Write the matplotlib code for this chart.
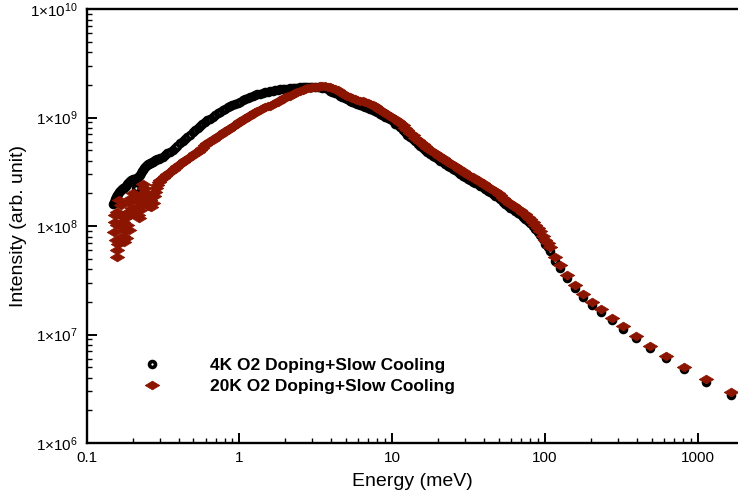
import matplotlib
matplotlib.use("Agg")
import matplotlib.pyplot as plt
from matplotlib.path import Path
from matplotlib.ticker import FixedLocator, FixedFormatter, LogLocator, NullFormatter

# axis ticks
x_ticks = [0.1, 1, 10, 100, 1000]
x_tick_labels = ['0.1', '1', '10', '100', '1000']
y_ticks = [1e6, 1e7, 1e8, 1e9, 1e10]
y_tick_labels = ['1×10$^{6}$', '1×10$^{7}$', '1×10$^{8}$', '1×10$^{9}$', '1×10$^{10}$']

series_names = ['4K O2 Doping+Slow Cooling', '20K O2 Doping+Slow Cooling']

# low energy part (noisy, read separately for each run)
black_low_e = [0.1487, 0.1509, 0.1533, 0.1556, 0.1579, 0.1603, 0.1627, 0.1652, 0.1677, 0.1702,
               0.1728, 0.1754, 0.1781, 0.1808, 0.1836, 0.1864, 0.1892, 0.1921, 0.1950, 0.1980,
               0.2010, 0.2041, 0.2072, 0.2103, 0.2119, 0.2135, 0.2167, 0.2200, 0.2234, 0.2268,
               0.2302, 0.2337, 0.2372, 0.2409, 0.2445, 0.2483, 0.2520, 0.2559, 0.2598, 0.2637,
               0.2677, 0.2718, 0.2759, 0.2801, 0.2844, 0.2887, 0.2953]
black_low_i = [1.60e8, 1.67e8, 1.77e8, 1.85e8, 1.93e8, 1.99e8, 2.06e8, 2.10e8, 2.15e8, 2.19e8,
               2.24e8, 2.26e8, 2.29e8, 2.36e8, 2.44e8, 2.49e8, 2.54e8, 2.60e8, 2.66e8, 2.68e8,
               2.71e8, 2.71e8, 2.74e8, 2.24e8, 1.93e8, 2.77e8, 2.83e8, 2.89e8, 2.98e8, 3.08e8,
               3.18e8, 3.28e8, 3.39e8, 3.50e8, 3.57e8, 3.65e8, 3.69e8, 3.73e8, 3.77e8, 3.81e8,
               3.85e8, 3.89e8, 3.97e8, 4.06e8, 4.10e8, 4.15e8, 4.17e8]

red_low_e = [0.1498, 0.1521, 0.1533, 0.1556, 0.1573, 0.1579, 0.1591, 0.1591, 0.1615, 0.1627,
             0.1652, 0.1665, 0.1677, 0.1690, 0.1716, 0.1728, 0.1755, 0.1781, 0.1795, 0.1822,
             0.1836, 0.1864, 0.1892, 0.1906, 0.1935, 0.1950, 0.1980, 0.2010, 0.2041, 0.2072,
             0.2103, 0.2135, 0.2167, 0.2200, 0.2234, 0.2268, 0.2302, 0.2337, 0.2372, 0.2409,
             0.2445, 0.2483, 0.2520, 0.2559, 0.2598, 0.2637, 0.2677, 0.2718, 0.2759, 0.2801,
             0.2844, 0.2887, 0.2953]
red_low_i = [8.80e7, 1.26e8, 1.09e8, 7.43e7, 1.35e8, 1.02e8, 6.01e7, 5.21e7, 6.83e7, 1.74e8,
             7.43e7, 1.00e8, 1.56e8, 1.26e8, 8.09e7, 1.09e8, 7.12e7, 1.19e8, 9.19e7, 7.75e7,
             1.02e8, 1.35e8, 9.19e7, 1.67e8, 1.26e8, 1.81e8, 1.47e8, 2.01e8, 1.35e8, 1.74e8,
             1.81e8, 1.40e8, 1.26e8, 1.19e8, 1.40e8, 1.56e8, 1.93e8, 2.44e8, 2.24e8, 2.06e8,
             1.74e8, 1.74e8, 1.89e8, 1.53e8, 1.74e8, 1.50e8, 1.85e8, 1.63e8, 1.89e8, 2.06e8,
             2.24e8, 2.39e8, 2.54e8]

# common energy grid (meV) for the rest of both runs
energy = [0.302, 0.314, 0.326, 0.338, 0.351, 0.365, 0.379, 0.393, 0.408, 0.424,
          0.440, 0.457, 0.475, 0.493, 0.512, 0.532, 0.552, 0.573, 0.595, 0.618,
          0.642, 0.667, 0.692, 0.719, 0.746, 0.775, 0.805, 0.836, 0.868, 0.901,
          0.936, 0.972, 1.01, 1.05, 1.09, 1.13, 1.17, 1.22, 1.27, 1.31,
          1.36, 1.42, 1.47, 1.53, 1.59, 1.65, 1.71, 1.78, 1.84, 1.92,
          1.99, 2.07, 2.14, 2.23, 2.31, 2.40, 2.49, 2.59, 2.69, 2.79,
          2.90, 3.01, 3.13, 3.25, 3.37, 3.50, 3.64, 3.78, 3.92, 4.07,
          4.23, 4.39, 4.56, 4.73, 4.92, 5.10, 5.30, 5.50, 5.72, 5.93,
          6.16, 6.40, 6.65, 6.90, 7.17, 7.44, 7.73, 8.02, 8.33, 8.65,
          8.98, 9.33, 9.69, 10.06, 10.45, 10.85, 11.27, 11.70, 12.15, 12.61,
          13.10, 13.60, 14.12, 14.67, 15.23, 15.82, 16.42, 17.05, 17.71, 18.39,
          19.10, 19.83, 20.59, 21.38, 22.20, 23.06, 23.94, 24.86, 25.82, 26.81,
          27.84, 28.91, 30.02, 31.17, 32.37, 33.61, 34.91, 36.25, 37.64, 39.08,
          40.59, 42.15, 43.76, 45.45, 47.19, 49.00, 50.89, 52.84, 54.87, 56.98,
          59.17, 61.44, 63.80, 66.25, 68.80, 71.44, 74.19, 77.04, 80.00, 83.07,
          86.26, 89.58, 93.02, 96.59, 100.3, 104.2, 108.2,
          117, 126, 140, 158, 177, 203, 232, 274, 327, 394,
          489, 622, 820, 1130, 1650]

black_i = [4.21e8, 4.36e8, 4.51e8, 4.66e8, 4.81e8, 4.99e8, 5.18e8, 5.49e8, 5.82e8, 6.10e8,
           6.40e8, 6.68e8, 6.97e8, 7.31e8, 7.67e8, 8.00e8, 8.35e8, 8.71e8, 9.09e8, 9.43e8,
           9.79e8, 1.016e9, 1.054e9, 1.092e9, 1.131e9, 1.166e9, 1.203e9, 1.239e9, 1.276e9, 1.307e9,
           1.338e9, 1.368e9, 1.398e9, 1.436e9, 1.475e9, 1.510e9, 1.545e9, 1.575e9, 1.605e9, 1.634e9,
           1.664e9, 1.687e9, 1.711e9, 1.732e9, 1.754e9, 1.769e9, 1.785e9, 1.800e9, 1.816e9, 1.827e9,
           1.839e9, 1.850e9, 1.862e9, 1.872e9, 1.883e9, 1.890e9, 1.898e9, 1.904e9, 1.910e9, 1.914e9,
           1.918e9, 1.922e9, 1.927e9, 1.918e9, 1.910e9, 1.884e9, 1.858e9, 1.815e9, 1.773e9, 1.727e9,
           1.682e9, 1.638e9, 1.595e9, 1.553e9, 1.512e9, 1.468e9, 1.425e9, 1.390e9, 1.355e9, 1.329e9,
           1.304e9, 1.279e9, 1.255e9, 1.231e9, 1.208e9, 1.178e9, 1.148e9, 1.112e9, 1.077e9, 1.049e9,
           1.021e9, 9.95e8, 9.69e8, 9.23e8, 8.80e8, 8.48e8, 8.17e8, 7.75e8, 7.35e8, 6.97e8,
           6.61e8, 6.30e8, 6.01e8, 5.73e8, 5.46e8, 5.24e8, 5.02e8, 4.81e8, 4.61e8, 4.44e8,
           4.28e8, 4.14e8, 4.00e8, 3.86e8, 3.73e8, 3.61e8, 3.50e8, 3.37e8, 3.25e8, 3.13e8,
           3.02e8, 2.92e8, 2.83e8, 2.74e8, 2.66e8, 2.57e8, 2.49e8, 2.42e8, 2.35e8, 2.27e8,
           2.19e8, 2.12e8, 2.06e8, 1.98e8, 1.91e8, 1.84e8, 1.77e8, 1.68e8, 1.60e8, 1.54e8,
           1.48e8, 1.42e8, 1.37e8, 1.32e8, 1.28e8, 1.22e8, 1.17e8, 1.12e8, 1.07e8, 1.00e8,
           9.38e7, 8.80e7, 8.26e7, 7.51e7, 6.83e7, 6.34e7, 5.88e7,
           4.76e7, 4.06e7, 3.32e7, 2.68e7, 2.22e7, 1.89e7, 1.61e7, 1.35e7, 1.12e7, 9.19e6,
           7.43e6, 6.01e6, 4.76e6, 3.65e6, 2.77e6]

red_i = [2.65e8, 2.77e8, 2.89e8, 3.03e8, 3.17e8, 3.30e8, 3.44e8, 3.58e8, 3.73e8, 3.87e8,
         4.02e8, 4.17e8, 4.32e8, 4.49e8, 4.66e8, 4.84e8, 5.02e8, 5.26e8, 5.52e8, 5.76e8,
         6.01e8, 6.24e8, 6.47e8, 6.72e8, 6.97e8, 7.24e8, 7.51e8, 7.71e8, 7.92e8, 8.18e8,
         8.44e8, 8.85e8, 9.28e8, 9.58e8, 9.89e8, 1.021e9, 1.054e9, 1.088e9, 1.124e9, 1.154e9,
         1.185e9, 1.211e9, 1.237e9, 1.263e9, 1.290e9, 1.318e9, 1.346e9, 1.390e9, 1.435e9, 1.481e9,
         1.529e9, 1.562e9, 1.595e9, 1.633e9, 1.671e9, 1.712e9, 1.754e9, 1.792e9, 1.831e9, 1.860e9,
         1.890e9, 1.904e9, 1.918e9, 1.930e9, 1.943e9, 1.947e9, 1.951e9, 1.930e9, 1.910e9, 1.870e9,
         1.831e9, 1.779e9, 1.729e9, 1.678e9, 1.629e9, 1.586e9, 1.545e9, 1.508e9, 1.472e9, 1.448e9,
         1.425e9, 1.407e9, 1.390e9, 1.364e9, 1.338e9, 1.307e9, 1.276e9, 1.223e9, 1.173e9, 1.136e9,
         1.100e9, 1.065e9, 1.032e9, 9.95e8, 9.59e8, 9.24e8, 8.90e8, 8.44e8, 8.00e8, 7.59e8,
         7.20e8, 6.86e8, 6.54e8, 6.24e8, 5.95e8, 5.70e8, 5.46e8, 5.24e8, 5.02e8, 4.84e8,
         4.66e8, 4.50e8, 4.35e8, 4.20e8, 4.06e8, 3.93e8, 3.81e8, 3.67e8, 3.54e8, 3.41e8,
         3.28e8, 3.18e8, 3.08e8, 2.98e8, 2.89e8, 2.80e8, 2.71e8, 2.63e8, 2.56e8, 2.47e8,
         2.39e8, 2.31e8, 2.24e8, 2.16e8, 2.08e8, 2.00e8, 1.93e8, 1.83e8, 1.74e8, 1.67e8,
         1.61e8, 1.55e8, 1.50e8, 1.44e8, 1.39e8, 1.33e8, 1.28e8, 1.22e8, 1.16e8, 1.09e8,
         1.02e8, 9.58e7, 8.99e7, 8.17e7, 7.43e7, 6.90e7, 6.40e7,
         5.18e7, 4.37e7, 3.53e7, 2.86e7, 2.36e7, 2.00e7, 1.71e7, 1.43e7, 1.20e7, 9.75e6,
         7.89e6, 6.34e6, 5.05e6, 3.86e6, 2.97e6]


def main():
    plt.rcParams['font.family'] = ['Liberation Sans', 'DejaVu Sans']
    plt.rcParams['mathtext.fontset'] = 'custom'
    plt.rcParams['mathtext.rm'] = 'Liberation Sans'
    plt.rcParams['mathtext.it'] = 'Liberation Sans:italic'
    plt.rcParams['mathtext.bf'] = 'Liberation Sans:bold'

    red = '#8b1500'
    # flat diamond like the original symbol
    diamond = Path([(-1, 0), (0, 0.6), (1, 0), (0, -0.6), (-1, 0)],
                   [Path.MOVETO, Path.LINETO, Path.LINETO, Path.LINETO, Path.CLOSEPOLY])

    fig = plt.figure(figsize=(7.38, 4.98), dpi=100)
    ax = fig.add_axes([86.7 / 738, 1 - 443 / 498, 1 - 86.7 / 738, 434 / 498])

    # thick ring: looks solid where the points pile up
    circ = dict(marker='o', ls='none', ms=4.3, mew=2.6, mec='black', mfc='white')
    dia = dict(marker=diamond, ls='none', ms=10.5, mew=0.5, mec=red, mfc=red)

    ax.plot(black_low_e, black_low_i, **circ)
    ax.plot(energy, black_i, label=series_names[0], **circ)
    ax.plot(red_low_e, red_low_i, **dia)
    ax.plot(energy, red_i, label=series_names[1], **dia)

    ax.set_xscale('log')
    ax.set_yscale('log')
    ax.set_xlim(0.1, 1841)
    ax.set_ylim(1e6, 1e10)

    ax.xaxis.set_major_locator(FixedLocator(x_ticks))
    ax.xaxis.set_major_formatter(FixedFormatter(x_tick_labels))
    ax.yaxis.set_major_locator(FixedLocator(y_ticks))
    ax.yaxis.set_major_formatter(FixedFormatter(y_tick_labels))
    for a in (ax.xaxis, ax.yaxis):
        a.set_minor_locator(LogLocator(base=10, subs=range(2, 10), numticks=20))
        a.set_minor_formatter(NullFormatter())

    ax.tick_params(which='both', direction='in', top=False, right=False, labelsize=11)
    ax.tick_params(which='major', length=7, width=1.4)
    ax.tick_params(which='minor', length=3.6, width=1.0)
    ax.tick_params(axis='x', pad=5.5)
    ax.tick_params(axis='y', pad=6.5)

    for s in ('left', 'bottom', 'top'):
        ax.spines[s].set_linewidth(1.7)
    ax.spines['right'].set_visible(False)

    ax.set_xlabel('Energy (meV)', fontsize=14)
    ax.set_ylabel('Intensity (arb. unit)', fontsize=14)
    ax.xaxis.set_label_coords(0.5, -0.07)
    ax.yaxis.set_label_coords(-0.091, 0.5)

    ax.legend(loc='upper left', bbox_to_anchor=(134.6 / 738, 1 - 358.2 / 498),
              bbox_transform=fig.transFigure, frameon=False,
              prop={'weight': 'bold', 'size': 12.5}, handlelength=2,
              handletextpad=2.34, labelspacing=0.3, borderpad=0, borderaxespad=0)

    fig.savefig('out.png', dpi=100)


if __name__ == "__main__":
    main()
